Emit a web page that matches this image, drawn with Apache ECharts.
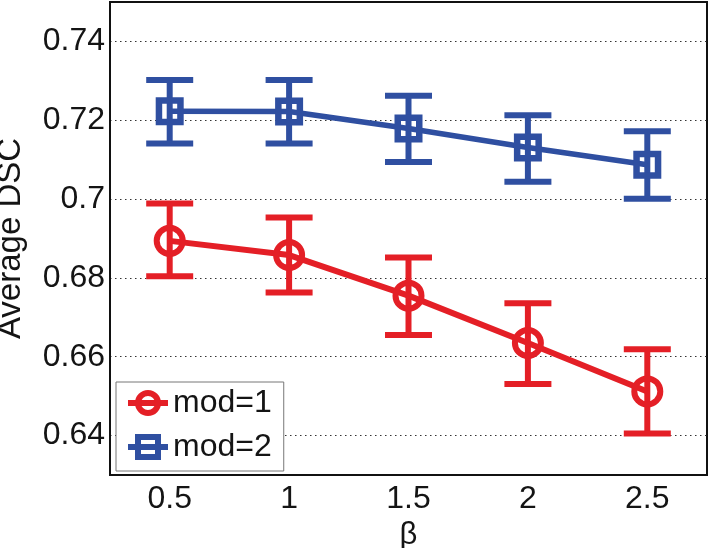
<!DOCTYPE html>
<html>
<head>
<meta charset="utf-8">
<script src="https://cdn.jsdelivr.net/npm/echarts@6/dist/echarts.min.js"></script>
<style>html,body{margin:0;padding:0;background:#fff}#c{width:710px;height:548px}</style>
</head>
<body>
<div id="c"></div>
<script>
const categories = ['0.5', '1', '1.5', '2', '2.5'];
const yTicks = [0.64, 0.66, 0.68, 0.70, 0.72, 0.74];
const mod1Mean = [0.6894, 0.6858, 0.6755, 0.6635, 0.6512];
const mod1Low  = [0.6804, 0.6763, 0.6655, 0.6531, 0.6405];
const mod1High = [0.6989, 0.6953, 0.6852, 0.6736, 0.6619];
const mod2Mean = [0.7223, 0.7222, 0.7179, 0.7131, 0.7087];
const mod2Low  = [0.7141, 0.7141, 0.7094, 0.7044, 0.7001];
const mod2High = [0.7302, 0.7302, 0.7262, 0.7213, 0.7172];

const RED = '#e41f26';
const BLUE = '#2f4fa1';
const FONT = 'Liberation Sans';
const TXT = '#141414';

function errData(low, high) {
  return categories.map((c, i) => [i, low[i], high[i]]);
}
function errRender(color) {
  return function (params, api) {
    const lo = api.coord([api.value(0), api.value(1)]);
    const hi = api.coord([api.value(0), api.value(2)]);
    const hw = 23.5;
    const style = { stroke: color, lineWidth: 6, fill: null };
    return {
      type: 'group',
      children: [
        { type: 'line', shape: { x1: lo[0], y1: lo[1], x2: hi[0], y2: hi[1] }, style },
        { type: 'line', shape: { x1: lo[0] - hw, y1: lo[1], x2: lo[0] + hw, y2: lo[1] }, style },
        { type: 'line', shape: { x1: hi[0] - hw, y1: hi[1], x2: hi[0] + hw, y2: hi[1] }, style }
      ]
    };
  };
}

const chart = echarts.init(document.getElementById('c'), null, { renderer: 'canvas' });
chart.setOption({
  animation: false,
  backgroundColor: '#fff',
  textStyle: { fontFamily: FONT },
  grid: { left: 110, right: 3, top: 2, bottom: 73, outerBoundsMode: 'none', containLabel: false,
          show: true, borderColor: '#111', borderWidth: 2, backgroundColor: 'transparent' },
  xAxis: {
    type: 'category',
    data: categories,
    boundaryGap: true,
    axisLine: { show: true, lineStyle: { color: '#111', width: 2 } },
    axisTick: { show: false },
    axisLabel: { color: TXT, fontSize: 32, fontFamily: FONT, margin: 8 },
    splitLine: { show: false },
    name: 'β',
    nameLocation: 'middle',
    nameGap: 38,
    nameTextStyle: { color: TXT, fontSize: 31, fontFamily: FONT }
  },
  yAxis: {
    type: 'value',
    min: 0.63,
    max: 0.75,
    axisLine: { show: true, lineStyle: { color: '#111', width: 2 } },
    axisTick: { show: false, customValues: yTicks },
    axisLabel: { customValues: yTicks, color: TXT, fontSize: 32, fontFamily: FONT, margin: 5 },
    splitLine: { show: true, lineStyle: { color: '#333', width: 1, type: [1.5, 3.5] } },
    name: 'Average DSC',
    nameLocation: 'middle',
    nameRotate: 90,
    nameGap: 83,
    nameTextStyle: { color: TXT, fontSize: 33, fontFamily: FONT }
  },
  legend: {
    left: 116,
    top: 382,
    orient: 'vertical',
    backgroundColor: '#fff',
    borderColor: '#777',
    borderWidth: 1,
    borderRadius: 0,
    padding: [5, 12, 8, 9],
    itemGap: 12,
    itemWidth: 40,
    itemHeight: 25,
    itemStyle: { borderWidth: 6 },
    lineStyle: { width: 6 },
    textStyle: { color: TXT, fontSize: 32, fontFamily: FONT },
    data: ['mod=1', 'mod=2']
  },
  series: [
    {
      name: 'mod=1', type: 'line', data: mod1Mean,
      symbol: 'circle', symbolSize: 26,
      lineStyle: { color: RED, width: 6 },
      itemStyle: { color: 'rgba(255,255,255,0)', borderColor: RED, borderWidth: 6 },
      z: 3
    },
    {
      name: 'mod=2', type: 'line', data: mod2Mean,
      symbol: 'rect', symbolSize: 21.5,
      lineStyle: { color: BLUE, width: 5.5 },
      itemStyle: { color: 'rgba(255,255,255,0)', borderColor: BLUE, borderWidth: 6.5 },
      z: 3
    },
    {
      name: 'err1', type: 'custom', data: errData(mod1Low, mod1High),
      encode: { x: 0, y: [1, 2] }, renderItem: errRender(RED), z: 2, silent: true
    },
    {
      name: 'err2', type: 'custom', data: errData(mod2Low, mod2High),
      encode: { x: 0, y: [1, 2] }, renderItem: errRender(BLUE), z: 2, silent: true
    }
  ]
});
</script>
</body>
</html>
